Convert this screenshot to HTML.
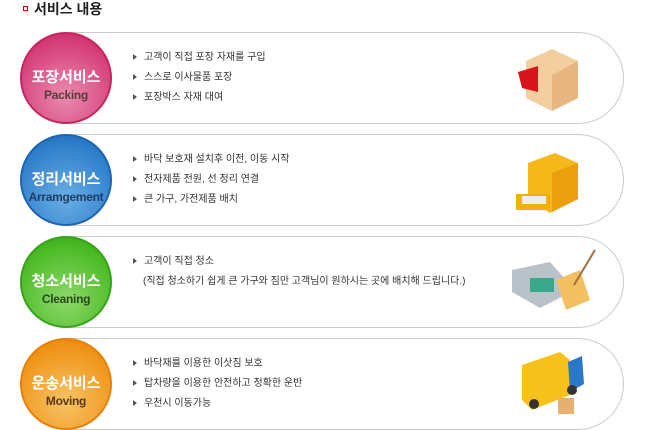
<!DOCTYPE html>
<html><head><meta charset="utf-8"><style>
body{margin:0;width:648px;height:430px;background:#fff;position:relative;overflow:hidden;font-family:"Liberation Sans","Noto Sans CJK KR",sans-serif}
.t{position:absolute;left:34px;top:-1px;font-size:14px;font-weight:bold;color:#222}
.sq{position:absolute;left:23px;top:6px;width:3px;height:3px;border:1px solid #c00;background:#fff}
.row{position:absolute;left:60px;width:563px;height:90px;border:1px solid #ccc;border-left:none;border-radius:0 46px 46px 0}
.c{position:absolute;left:20px;width:92px;height:92px;border-radius:50%;text-align:center;color:#fff;box-sizing:border-box}
.c b{display:block;font-size:15px;margin-top:32px;letter-spacing:0px}
.c i{display:block;font-style:normal;font-weight:bold;font-size:12px;color:#5a3a3a;margin-top:1px;letter-spacing:-0.3px}
ul{position:absolute;left:133px;margin:0;padding:0;list-style:none;font-size:10px;color:#333;line-height:20px}
li:before{content:"";display:inline-block;border-left:4px solid #555;border-top:3px solid transparent;border-bottom:3px solid transparent;margin-right:7px;vertical-align:0px}
.n:before{display:none}
</style></head><body>
<div class="sq"></div><div class="t">서비스 내용</div>
<div class="row" style="top:32px"></div>
<div class="row" style="top:134px"></div>
<div class="row" style="top:236px"></div>
<div class="row" style="top:338px"></div>
<div class="c" style="top:32px;background:radial-gradient(circle at 50% 70%,#e98cb0,#d63f7a 70%,#c01d5c);border:2px solid #c8245e"><b>포장서비스</b><i>Packing</i></div>
<div class="c" style="top:134px;background:radial-gradient(circle at 50% 70%,#6aaee4,#2e7fcb 70%,#1a62b0);border:2px solid #1c64b0"><b>정리서비스</b><i style="color:#1d3d66">Arramgement</i></div>
<div class="c" style="top:236px;background:radial-gradient(circle at 50% 70%,#8ed86a,#4bbb25 70%,#2f9c12);border:2px solid #36a418"><b>청소서비스</b><i style="color:#2a4a1a">Cleaning</i></div>
<div class="c" style="top:338px;background:radial-gradient(circle at 50% 70%,#f7c266,#f0961a 70%,#e67c05);border:2px solid #e88006"><b>운송서비스</b><i style="color:#5a3a10">Moving</i></div>
<ul style="top:48px"><li>고객이 직접 포장 자재를 구입</li><li>스스로 이사물품 포장</li><li>포장박스 자재 대여</li></ul>
<ul style="top:150px"><li>바닥 보호재 설치후 이전, 이동 시작</li><li>전자제품 전원, 선 정리 연결</li><li>큰 가구, 가전제품 배치</li></ul>
<ul style="top:252px"><li>고객이 직접 청소</li><li style="padding-left:10px" class="n">(직접 청소하기 쉽게 큰 가구와 짐만 고객님이 원하시는 곳에 배치해 드립니다.)</li></ul>
<ul style="top:354px"><li>바닥재를 이용한 이삿짐 보호</li><li>탑차량을 이용한 안전하고 정확한 운반</li><li>우천시 이동가능</li></ul>
<svg style="position:absolute;left:0;top:0" width="648" height="430">
<polygon points="552,49 578,61 578,98 552,111 526,98 526,61" fill="#f3cfa0"/>
<polygon points="552,75 578,61 578,98 552,111" fill="#e7b57f"/>
<polygon points="518,72 538,66 538,92 522,88" fill="#d8141c"/>
<polygon points="555,153 578,163 578,199 550,213 528,200 528,163" fill="#f6b81a"/>
<polygon points="552,173 578,163 578,199 552,212" fill="#e9a00c"/>
<rect x="516" y="194" width="34" height="16" fill="#f0b010"/><rect x="522" y="196" width="24" height="8" fill="#eee"/>
<polygon points="512,270 550,262 575,290 540,308 512,292" fill="#b9c2c8"/>
<rect x="530" y="278" width="24" height="14" fill="#3aa88a"/>
<polygon points="556,280 580,270 590,300 566,310" fill="#f2c060"/>
<line x1="574" y1="285" x2="595" y2="250" stroke="#a07040" stroke-width="2"/>
<polygon points="522,365 560,352 570,360 570,395 532,410 522,400" fill="#f6c11a"/>
<polygon points="568,362 582,356 584,384 570,392" fill="#2b78c8"/>
<circle cx="534" cy="404" r="5" fill="#333"/><circle cx="572" cy="390" r="5" fill="#333"/>
<rect x="558" y="398" width="16" height="16" fill="#e5b070"/>
</svg>
</body></html>
